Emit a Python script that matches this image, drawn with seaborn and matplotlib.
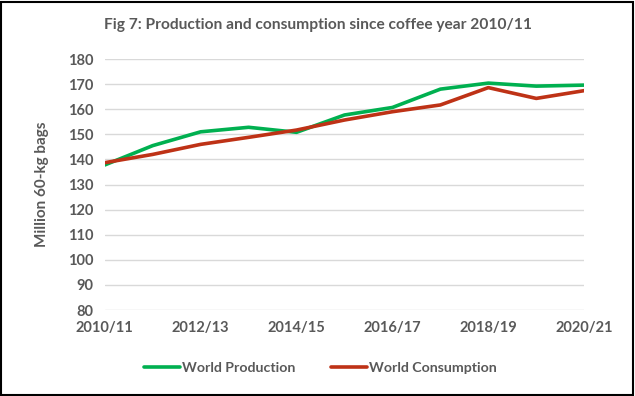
import matplotlib
matplotlib.use("Agg")
import matplotlib.pyplot as plt
import pandas as pd
import seaborn as sns

sns.set_theme(style="white")
plt.rcParams["font.family"] = ["Lato", "DejaVu Sans"]

years = ["2010/11", "2011/12", "2012/13", "2013/14", "2014/15", "2015/16",
         "2016/17", "2017/18", "2018/19", "2019/20", "2020/21"]
production = [137.8, 145.5, 151.0, 152.8, 150.8, 157.7, 160.7, 168.0, 170.4, 169.2, 169.6]
consumption = [138.7, 142.0, 146.0, 148.8, 151.7, 155.7, 159.0, 161.7, 168.6, 164.3, 167.4]

df = pd.DataFrame({"x": list(range(len(years))) * 2,
                   "value": production + consumption,
                   "series": ["World Production"] * len(years) + ["World Consumption"] * len(years)})

grey = "#595959"
fig = plt.figure(figsize=(6.35, 3.96), dpi=100)
ax = fig.add_axes([0.165, 0.217, 0.755, 0.634])

sns.lineplot(data=df, x="x", y="value", hue="series",
             palette={"World Production": "#00B050", "World Consumption": "#BE3216"},
             linewidth=2.6, ax=ax, legend=False)

ax.set_xlim(0, len(years) - 1)
ax.set_ylim(80, 180)
ax.set_yticks(range(80, 181, 10))
ax.set_xticks(range(0, len(years), 2))
ax.set_xticklabels(years[::2])
ax.tick_params(axis="both", length=0, labelsize=10.5, labelcolor=grey, pad=8)
for lbl in ax.get_xticklabels() + ax.get_yticklabels():
    lbl.set_fontweight("bold")
ax.yaxis.grid(True, color="#D9D9D9", linewidth=1)
ax.set_axisbelow(True)
sns.despine(ax=ax, left=True, bottom=True)
ax.set_xlabel("")
ax.set_ylabel("Million 60-kg bags", fontsize=11, fontweight="bold", color=grey, labelpad=14)

fig.suptitle("Fig 7: Production and consumption since coffee year 2010/11",
             x=0.5, y=0.955, fontsize=11.2, fontweight="bold", color=grey)

handles = [plt.Line2D([], [], color="#00B050", lw=2.6),
           plt.Line2D([], [], color="#BE3216", lw=2.6)]
leg = fig.legend(handles, ["World Production", "World Consumption"], loc="center",
                 bbox_to_anchor=(0.505, 0.07), ncol=2, frameon=False, fontsize=10.2,
                 handlelength=2.5, handletextpad=0.2, columnspacing=2.5)
for t in leg.get_texts():
    t.set_color(grey)
    t.set_fontweight("bold")

fig.patches.append(plt.Rectangle((0.002, 0.003), 0.995, 0.993, transform=fig.transFigure,
                                 fill=False, edgecolor="black", linewidth=1.5))

plt.savefig("out.png", dpi=100)
